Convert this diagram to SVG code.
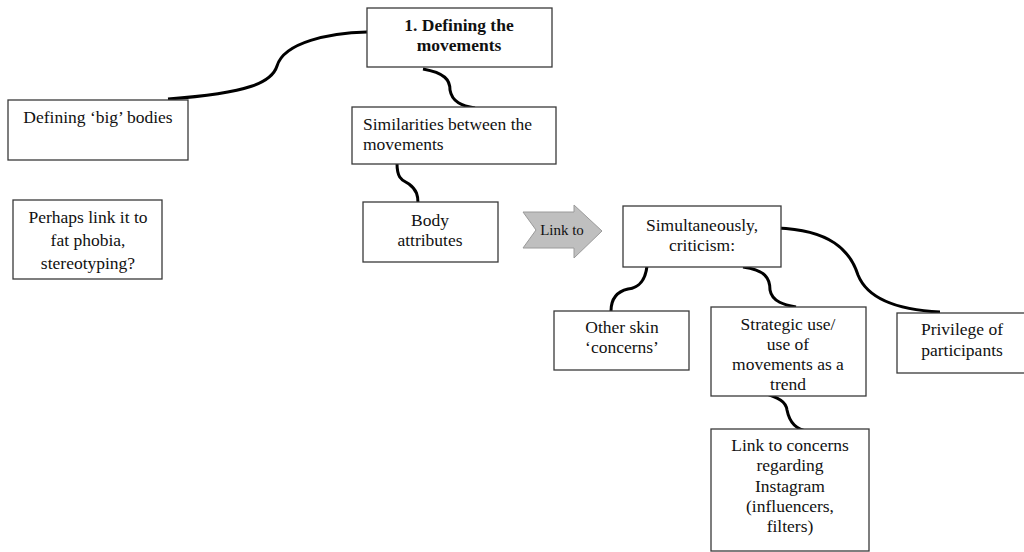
<svg xmlns="http://www.w3.org/2000/svg" width="1024" height="552" viewBox="0 0 1024 552">
<style>
.box{fill:#fff;stroke:#3a3a3a;stroke-width:1.3}
.t{font-family:"Liberation Serif","DejaVu Serif",serif;font-size:17.5px;fill:#111;text-anchor:middle}
.tl{text-anchor:start}
.b{font-weight:bold}
.c{fill:none;stroke:#000;stroke-width:3;stroke-linecap:butt}
</style>
<rect width="1024" height="552" fill="#fff"/>
<g id="connectors">
<path class="c" d="M168,99 C250,93 272,82 277,66 C284,42 330,33 367,32"/>
<path class="c" d="M423,69 C445,73 450,80 450,90 C452,102 462,106 475,108"/>
<path class="c" d="M397,163 C397,180 403,180 409,184 C417,190 418,196 418,203"/>
<path class="c" d="M647,266 C645,285 635,288 628,289 C615,292 611,300 611,311"/>
<path class="c" d="M743,267 C765,270 770,278 770,290 C772,302 785,305 796,307"/>
<path class="c" d="M777,228 C830,230 850,250 858,275 C868,300 900,310 940,312"/>
<path class="c" d="M761,392 C780,398 786,402 787,410 C790,425 798,430 808,431"/>
</g>
<g id="n-defining-movements">
<rect class="box" x="367" y="8" width="185" height="59"/>
<text class="t b" x="459" y="31">1. Defining the</text>
<text class="t b" x="459" y="51">movements</text>
</g>
<g id="n-big-bodies">
<rect class="box" x="8" y="100" width="180" height="60"/>
<text class="t" x="98" y="123">Defining ‘big’ bodies</text>
</g>
<g id="n-perhaps">
<rect class="box" x="13" y="200" width="149" height="79"/>
<text class="t" x="88" y="223">Perhaps link it to</text>
<text class="t" x="88" y="246">fat phobia,</text>
<text class="t" x="88" y="269">stereotyping?</text>
</g>
<g id="n-similarities">
<rect class="box" x="352" y="107" width="204" height="57"/>
<text class="t tl" x="363" y="130">Similarities between the</text>
<text class="t tl" x="363" y="150">movements</text>
</g>
<g id="n-body-attributes">
<rect class="box" x="363" y="202" width="135" height="60"/>
<text class="t" x="430" y="226">Body</text>
<text class="t" x="430" y="246">attributes</text>
</g>
<g id="n-link-arrow">
<polygon points="523,212 574,212 574,205 602,231 574,258 574,248 523,248 536,230" fill="#bfbfbf" stroke="#9a9a9a" stroke-width="1"/>
<text class="t" x="562" y="235" style="font-size:15px">Link to</text>
</g>
<g id="n-simultaneously">
<rect class="box" x="623" y="206" width="158" height="61"/>
<text class="t" x="702" y="231">Simultaneously,</text>
<text class="t" x="702" y="251">criticism:</text>
</g>
<g id="n-other-skin">
<rect class="box" x="554" y="311" width="135" height="59"/>
<text class="t" x="622" y="333">Other skin</text>
<text class="t" x="622" y="353">‘concerns’</text>
</g>
<g id="n-strategic">
<rect class="box" x="711" y="307" width="155" height="89"/>
<text class="t" x="788" y="330">Strategic use/</text>
<text class="t" x="788" y="350">use of</text>
<text class="t" x="788" y="370">movements as a</text>
<text class="t" x="788" y="390">trend</text>
</g>
<g id="n-privilege">
<rect class="box" x="897" y="313" width="133" height="60"/>
<text class="t" x="962" y="335">Privilege of</text>
<text class="t" x="962" y="356">participants</text>
</g>
<g id="n-instagram">
<rect class="box" x="711" y="429" width="158" height="122"/>
<text class="t" x="790" y="451">Link to concerns</text>
<text class="t" x="790" y="471">regarding</text>
<text class="t" x="790" y="492">Instagram</text>
<text class="t" x="790" y="512">(influencers,</text>
<text class="t" x="790" y="532">filters)</text>
</g>
</svg>
